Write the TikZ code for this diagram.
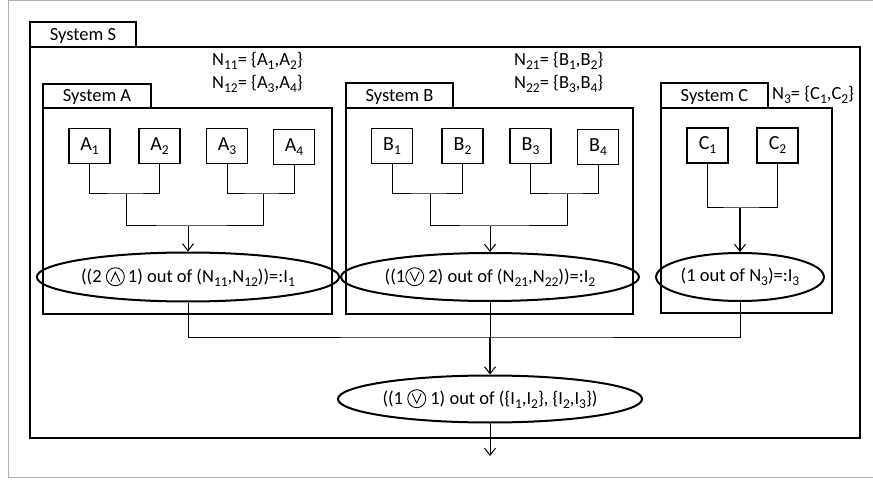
\documentclass[tikz,border=0pt]{standalone}
\usepackage{fontspec}
\setmainfont{Carlito}
\usetikzlibrary{shapes.geometric,arrows.meta}
\newcommand{\sbs}[1]{\raisebox{-4pt}{\fontsize{13.5}{14}\selectfont #1}}
\newcommand{\cwedge}{\tikz[baseline=-6pt,x=1pt,y=1pt]{\draw[line width=0.9pt] (0,0) circle (9); \draw[line width=0.9pt] (-4.5,-5)--(0,4.5)--(4.5,-5);}}
\newcommand{\cvee}{\tikz[baseline=-6pt,x=1pt,y=1pt]{\draw[line width=0.9pt] (0,0) circle (9); \draw[line width=0.9pt] (-4.5,5)--(0,-4.5)--(4.5,5);}}
\tikzset{
  sysbox/.style={line width=2pt},
  tabtxt/.style={inner sep=0pt},
  comp/.style={draw, line width=1.2pt, minimum width=41pt, minimum height=35pt, inner sep=0pt, font=\fontsize{20}{22}\selectfont},
  oper/.style={draw, ellipse, line width=2pt, inner sep=0pt},
  wire/.style={line width=1pt},
  bwire/.style={line width=1.8pt},
  arr/.style={-{Straight Barb[length=7pt,width=11pt,line width=1pt]}},
  lbl/.style={inner sep=0pt, anchor=west}
}
\begin{document}
\begin{tikzpicture}[x=1pt,y=-1pt,font=\fontsize{18.5}{22}\selectfont]
\useasboundingbox (0,0) rectangle (873,481);
% outer gray frame
\draw[gray!60, line width=1pt] (873,0.5) -- (8,0.5) -- (8,477) -- (873,477);
% System S
\draw[sysbox] (30,47) rectangle (860,438);
\draw[sysbox] (30,22) rectangle (136,47);
\node[tabtxt] (tS) at (83,36) {System S};
% System A
\draw[sysbox] (43,108) rectangle (332,314);
\draw[sysbox] (43,84) rectangle (151,108);
\node[tabtxt] (tA) at (97,97) {System A};
% System B
\draw[sysbox] (346,108) rectangle (633,314);
\draw[sysbox] (346,83) rectangle (453,108);
\node[tabtxt] (tB) at (399.5,96.5) {System B};
% System C
\draw[sysbox] (661,108) rectangle (832,313);
\draw[sysbox] (661,83) rectangle (768,108);
\node[tabtxt] (tC) at (714.5,96.5) {System C};
% labels
\node[lbl] (n11) at (212,61) {N\sbs{11}= \{A\sbs{1},A\sbs{2}\}};
\node[lbl] (n12) at (212,84) {N\sbs{12}= \{A\sbs{3},A\sbs{4}\}};
\node[lbl] (n21) at (514,61) {N\sbs{21}= \{B\sbs{1},B\sbs{2}\}};
\node[lbl] (n22) at (514,84) {N\sbs{22}= \{B\sbs{3},B\sbs{4}\}};
\node[lbl] (n3) at (772,95) {N\sbs{3}= \{C\sbs{1},C\sbs{2}\}};
% components A
\node[comp] (a1) at (89.5,146) {A\sbs{1}};
\node[comp] (a2) at (159.5,146) {A\sbs{2}};
\node[comp] (a3) at (227,146) {A\sbs{3}};
\node[comp] (a4) at (294,147) {A\sbs{4}};
% components B
\node[comp] (b1) at (392,146) {B\sbs{1}};
\node[comp] (b2) at (462.5,146) {B\sbs{2}};
\node[comp] (b3) at (530.5,146) {B\sbs{3}};
\node[comp] (b4) at (598,147) {B\sbs{4}};
% components C
\node[comp] (c1) at (707.5,145.5) {C\sbs{1}};
\node[comp] (c2) at (777.5,145.5) {C\sbs{2}};
% operators
\node[oper, minimum width=275pt, minimum height=49pt] (eA) at (188,277) {((2 \cwedge\,1) out of (N\sbs{11},N\sbs{12}))=:I\sbs{1}};
\node[oper, minimum width=275pt, minimum height=48pt] (eB) at (490,277) {((1\cvee\ 2) out of (N\sbs{21},N\sbs{22}))=:I\sbs{2}};
\node[oper, minimum width=147pt, minimum height=48pt] (eC) at (740,277) {(1 out of N\sbs{3})=:I\sbs{3}};
\node[oper, minimum width=275pt, minimum height=47pt] (eF) at (490,399) {((1 \cvee\ 1) out of (\{I\sbs{1},I\sbs{2}\}, \{I\sbs{2},I\sbs{3}\})};
% junctions
\coordinate (ja12) at (126,194);
\coordinate (ja34) at (263,194);
\coordinate (jA) at (188,226);
\coordinate (jb12) at (430,194);
\coordinate (jb34) at (567,194);
\coordinate (jB) at (490,226);
\coordinate (jC) at (740,208);
\coordinate (jS) at (490,337);
\coordinate (out) at (490,456);
% wires A
\draw[wire] (a1.south) |- (ja12) -| (a2.south);
\draw[wire] (a3.south) |- (ja34) -| (a4.south);
\draw[wire] (ja12) |- (jA) -| (ja34);
\draw[wire,arr] (jA) -- (eA.north);
% wires B
\draw[wire] (b1.south) |- (jb12) -| (b2.south);
\draw[wire] (b3.south) |- (jb34) -| (b4.south);
\draw[wire] (jb12) |- (jB) -| (jb34);
\draw[wire,arr] (jB) -- (eB.north);
% wires C
\draw[wire] (c1.south) |- (jC) -| (c2.south);
\draw[bwire,arr] (jC) -- (eC.north);
% wires S
\draw[wire] (eA.south) |- (jS) -| (eC.south);
\draw[wire] (eB.south) -- (jS);
\draw[bwire,arr] (jS) -- (eF.north);
\draw[wire,arr] (eF.south) -- (out);
\end{tikzpicture}
\end{document}
